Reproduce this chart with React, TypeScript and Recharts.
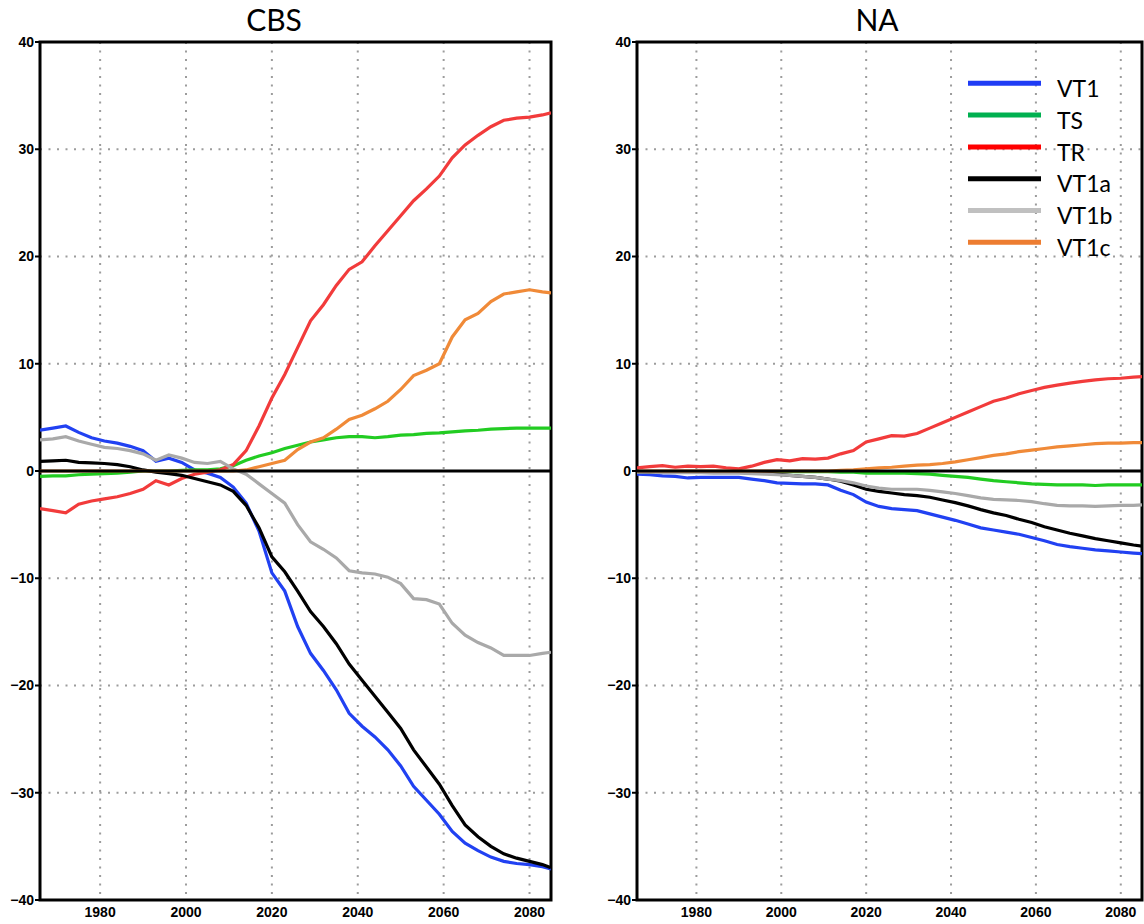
import React from 'react';
import {
  LineChart,
  Line,
  XAxis,
  YAxis,
  CartesianGrid,
  ReferenceLine,
  ReferenceArea,
  Legend,
} from 'recharts';

const years = [
  1966, 1969, 1972, 1975, 1978, 1981, 1984, 1987, 1990, 1993,
  1996, 1999, 2002, 2005, 2008, 2011, 2014, 2017, 2020, 2023,
  2026, 2029, 2032, 2035, 2038, 2041, 2044, 2047, 2050, 2053,
  2056, 2059, 2062, 2065, 2068, 2071, 2074, 2077, 2080, 2083,
  2085,
];

const seriesNames = ['VT1', 'TS', 'TR', 'VT1a', 'VT1b', 'VT1c'];
const lineColors = ['#2141f2', '#22cc22', '#f23b3b', '#000000', '#a9a9a9', '#f08a38'];
const legendColors = ['#1f3cf5', '#00b050', '#ff0000', '#000000', '#c0c0c0', '#ed7d31'];
const xTicks = [1980, 2000, 2020, 2040, 2060, 2080];
const yTicks = [-40, -30, -20, -10, 0, 10, 20, 30, 40];

// CBS panel
const cbsVT1 = [3.8, 4.0, 4.2, 3.6, 3.1, 2.8, 2.6, 2.3, 1.9, 0.9, 1.2, 0.8, 0.1, -0.2, -0.6, -1.5, -3.0, -5.6, -9.5, -11.2, -14.5, -17.0, -18.6, -20.4, -22.6, -23.8, -24.8, -26.0, -27.5, -29.4, -30.7, -32.0, -33.6, -34.7, -35.4, -36.0, -36.4, -36.6, -36.7, -36.9, -37.1];
const cbsTS = [-0.5, -0.45, -0.45, -0.35, -0.3, -0.25, -0.2, -0.1, 0.0, 0.0, 0.0, 0.05, 0.1, 0.1, 0.2, 0.5, 1.0, 1.4, 1.7, 2.1, 2.4, 2.7, 2.9, 3.1, 3.2, 3.2, 3.1, 3.2, 3.35, 3.4, 3.5, 3.55, 3.65, 3.75, 3.8, 3.9, 3.95, 4.0, 4.0, 4.0, 4.0];
const cbsTR = [-3.5, -3.7, -3.9, -3.1, -2.8, -2.6, -2.4, -2.1, -1.7, -0.9, -1.3, -0.7, -0.3, -0.1, 0.1, 0.6, 1.9, 4.2, 6.8, 9.0, 11.5, 14.0, 15.5, 17.3, 18.8, 19.5, 21.0, 22.4, 23.8, 25.2, 26.3, 27.5, 29.2, 30.4, 31.3, 32.1, 32.7, 32.9, 33.0, 33.2, 33.4];
const cbsVT1a = [0.9, 0.95, 1.0, 0.8, 0.75, 0.7, 0.6, 0.4, 0.1, -0.1, -0.25, -0.4, -0.7, -1.0, -1.3, -1.9, -3.2, -5.3, -8.0, -9.4, -11.2, -13.1, -14.5, -16.1, -18.0, -19.5, -21.0, -22.5, -24.0, -26.0, -27.6, -29.2, -31.2, -33.0, -34.1, -35.0, -35.7, -36.1, -36.4, -36.7, -37.0];
const cbsVT1b = [2.9, 3.0, 3.2, 2.8, 2.5, 2.2, 2.1, 1.9, 1.6, 1.0, 1.5, 1.2, 0.8, 0.7, 0.9, 0.2, -0.3, -1.2, -2.1, -3.0, -5.0, -6.6, -7.3, -8.1, -9.3, -9.5, -9.6, -9.9, -10.5, -11.9, -12.0, -12.4, -14.2, -15.3, -16.0, -16.5, -17.2, -17.2, -17.2, -17.0, -16.9];
const cbsVT1c = [0, 0, 0, 0, 0, 0, 0, 0, 0, 0, 0, 0, 0, 0, 0, 0.0, 0.1, 0.4, 0.7, 1.0, 2.0, 2.7, 3.1, 3.9, 4.8, 5.2, 5.8, 6.5, 7.6, 8.9, 9.4, 10.0, 12.5, 14.1, 14.7, 15.8, 16.5, 16.7, 16.9, 16.7, 16.6];

// NA panel
const naVT1 = [-0.3, -0.35, -0.45, -0.5, -0.65, -0.6, -0.6, -0.6, -0.6, -0.75, -0.9, -1.1, -1.15, -1.2, -1.2, -1.3, -1.8, -2.2, -2.9, -3.3, -3.5, -3.6, -3.7, -4.0, -4.3, -4.6, -4.95, -5.3, -5.5, -5.7, -5.9, -6.2, -6.5, -6.85, -7.05, -7.2, -7.35, -7.45, -7.55, -7.65, -7.7];
const naTS = [-0.05, -0.05, -0.05, -0.05, -0.05, -0.05, -0.05, -0.05, -0.05, -0.05, -0.05, -0.05, -0.05, -0.05, -0.05, -0.05, -0.1, -0.1, -0.2, -0.2, -0.2, -0.2, -0.25, -0.3, -0.4, -0.5, -0.6, -0.75, -0.9, -1.0, -1.1, -1.2, -1.25, -1.3, -1.3, -1.3, -1.35, -1.3, -1.3, -1.3, -1.3];
const naTR = [0.3, 0.4, 0.5, 0.35, 0.45, 0.4, 0.45, 0.3, 0.2, 0.45, 0.8, 1.05, 0.95, 1.15, 1.1, 1.2, 1.6, 1.9, 2.7, 3.0, 3.3, 3.25, 3.5, 4.0, 4.5, 5.0, 5.5, 6.0, 6.5, 6.8, 7.2, 7.5, 7.8, 8.0, 8.2, 8.35, 8.5, 8.6, 8.65, 8.75, 8.8];
const naVT1a = [-0.05, -0.1, -0.1, -0.1, -0.1, -0.1, -0.1, -0.1, -0.1, -0.15, -0.2, -0.3, -0.4, -0.5, -0.6, -0.75, -0.95, -1.3, -1.7, -1.9, -2.05, -2.2, -2.3, -2.45, -2.7, -2.95, -3.25, -3.6, -3.9, -4.15, -4.5, -4.8, -5.2, -5.5, -5.8, -6.05, -6.3, -6.5, -6.7, -6.9, -7.0];
const naVT1b = [-0.1, -0.1, -0.15, -0.15, -0.15, -0.15, -0.2, -0.2, -0.2, -0.25, -0.3, -0.35, -0.4, -0.5, -0.6, -0.75, -0.9, -1.1, -1.4, -1.6, -1.7, -1.7, -1.7, -1.8, -1.95, -2.1, -2.3, -2.5, -2.65, -2.7, -2.75, -2.85, -3.05, -3.2, -3.25, -3.25, -3.3, -3.25, -3.2, -3.2, -3.15];
const naVT1c = [0, 0, 0, 0, 0, 0, 0, 0, 0, 0, 0, 0, 0, 0, 0, 0.0, 0.05, 0.1, 0.2, 0.3, 0.35, 0.45, 0.55, 0.6, 0.7, 0.85, 1.05, 1.25, 1.45, 1.6, 1.8, 1.95, 2.1, 2.25, 2.35, 2.45, 2.55, 2.6, 2.6, 2.65, 2.65];

function buildRows(series: number[][]) {
  return years.map((year, i) => {
    const row: Record<string, number> = { year };
    seriesNames.forEach((n, k) => {
      row[n] = series[k][i];
    });
    return row;
  });
}

const cbsData = buildRows([cbsVT1, cbsTS, cbsTR, cbsVT1a, cbsVT1b, cbsVT1c]);
const naData = buildRows([naVT1, naTS, naTR, naVT1a, naVT1b, naVT1c]);

const tickStyle = {
  fontFamily: '"Liberation Sans", Arial, sans-serif',
  fontSize: 14,
  fontWeight: 700,
  fill: '#000',
};

const fmtY = (v: number) => (v < 0 ? `\u2212${Math.abs(v)}` : `${v}`);

const renderLegend = (props: any) => {
  const payload = props.payload || [];
  return (
    <svg width={170} height={200} style={{ display: 'block' }}>
      {payload.map((p: any) => {
        const idx = seriesNames.indexOf(p.value);
        const yLine = 13.3 + idx * 31.8;
        return (
          <g key={p.value}>
            <line x1={0} x2={73} y1={yLine} y2={yLine} stroke={legendColors[idx]} strokeWidth={5} />
            <text
              x={89}
              y={27 + idx * 31.8}
              fontFamily="Lato, 'Open Sans', sans-serif"
              fontSize={23}
              fill="#000"
            >
              {p.value}
            </text>
          </g>
        );
      })}
    </svg>
  );
};

type PanelProps = {
  data: Record<string, number>[];
  left: number;
  width: number;
  axisWidth: number;
  marginRight: number;
  showLegend: boolean;
};

function Panel({ data, left, width, axisWidth, marginRight, showLegend }: PanelProps) {
  return (
    <div style={{ position: 'absolute', left, top: 0, width, height: 924 }}>
      <LineChart
        width={width}
        height={924}
        data={data}
        margin={{ top: 42, right: marginRight, bottom: 0, left: 0 }}
      >
        <CartesianGrid stroke="#9c9c9c" strokeWidth={2} strokeDasharray="2 6.5" />
        <XAxis
          dataKey="year"
          type="number"
          domain={[1966, 2085]}
          ticks={xTicks}
          allowDataOverflow
          height={24}
          tickLine={false}
          axisLine={false}
          tickSize={6}
          tickMargin={1}
          tick={tickStyle}
          interval={0}
        />
        <YAxis
          type="number"
          domain={[-40, 40]}
          ticks={yTicks}
          width={axisWidth}
          axisLine={false}
          tickLine={{ stroke: '#000', strokeWidth: 2 }}
          tickSize={5}
          tickMargin={1}
          tick={tickStyle}
          tickFormatter={fmtY}
          interval={0}
        />
        {seriesNames.map((n, k) => (
          <Line
            key={n}
            type="linear"
            dataKey={n}
            name={n}
            stroke={lineColors[k]}
            strokeWidth={3.2}
            dot={false}
            activeDot={false}
            isAnimationActive={false}
          />
        ))}
        <ReferenceLine y={0} stroke="#000" strokeWidth={3} />
        <ReferenceArea
          x1={1966}
          x2={2085}
          y1={-40}
          y2={40}
          fill="none"
          fillOpacity={0}
          stroke="#000"
          strokeWidth={3}
          ifOverflow="visible"
        />
        {showLegend && (
          <Legend
            layout="horizontal"
            verticalAlign="middle"
            align="center"
            content={renderLegend}
            wrapperStyle={{ left: 388, top: 70, width: 170, height: 200 }}
          />
        )}
      </LineChart>
    </div>
  );
}

const titleStyle: React.CSSProperties = {
  position: 'absolute',
  top: 4,
  width: 200,
  textAlign: 'center',
  fontFamily: 'Lato, "Open Sans", sans-serif',
  fontSize: 30,
  lineHeight: '30px',
  color: '#000',
};

export default function App() {
  return (
    <div
      style={{
        position: 'absolute',
        left: 0,
        top: 0,
        width: 1144,
        height: 924,
        background: '#fff',
        overflow: 'hidden',
      }}
    >
      <div style={{ ...titleStyle, left: 174 }}>CBS</div>
      <div style={{ ...titleStyle, left: 777 }}>NA</div>
      <Panel data={cbsData} left={0} width={560} axisWidth={40} marginRight={9} showLegend={false} />
      <Panel data={naData} left={580} width={564} axisWidth={57} marginRight={2} showLegend={true} />
    </div>
  );
}
